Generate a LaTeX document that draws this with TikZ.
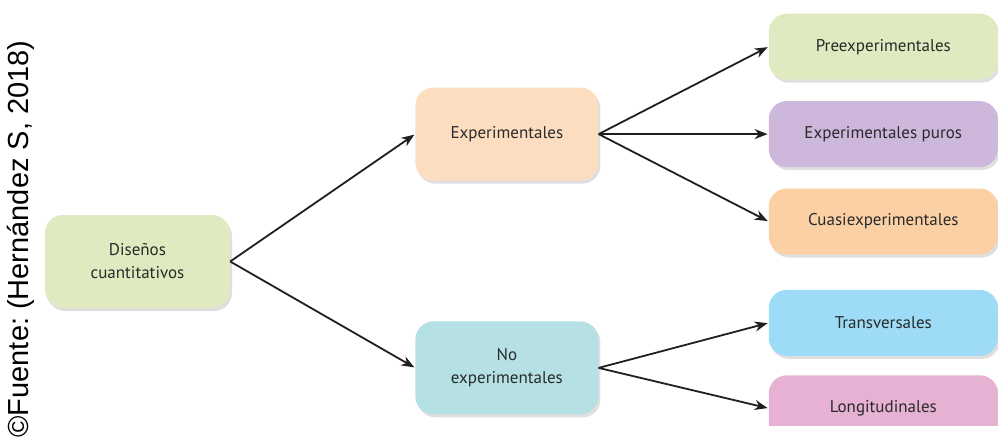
\documentclass[tikz,border=0pt]{standalone}
\usepackage{fontspec}
\setmainfont{PT Sans}
\newfontfamily\sourcefont{Liberation Sans}
\usetikzlibrary{arrows.meta, positioning, shadows}
\definecolor{boxgreen}{HTML}{E0EAC0}
\definecolor{boxpeach}{HTML}{FDDDC0}
\definecolor{boxlilac}{HTML}{CDB7DA}
\definecolor{boxorange}{HTML}{FBD0A5}
\definecolor{boxteal}{HTML}{B5E1E5}
\definecolor{boxblue}{HTML}{9DDBF6}
\definecolor{boxpink}{HTML}{E7B1D3}
\definecolor{textgray}{HTML}{2A2A2A}
\frenchspacing

\begin{document}
\begin{tikzpicture}[x=1pt, y=-1pt, >={Stealth[length=13pt,width=10pt]}, shorten >=1pt,
  box/.style={rounded corners=18pt, minimum width=185pt, minimum height=93pt, align=center,
    text=textgray, font=\fontsize{17}{23}\selectfont,
    drop shadow={shadow xshift=2pt, shadow yshift=-3pt, opacity=.25}},
  leaf/.style={box, minimum width=229pt, minimum height=66pt}]
\useasboundingbox (0,0) rectangle (998,439);

% define the boxes
  \node[box, fill=boxgreen] (dis) at (137.5,261.5) {Diseños\\cuantitativos};
  \node[box, fill=boxpeach, minimum width=183pt] (exp) [above right=34pt and 185pt of dis] {Experimentales};
  \node[box, fill=boxteal, minimum width=183pt] (noexp) [below right=13pt and 185pt of dis] {No\\experimentales};
  \node[leaf, fill=boxlilac] (pur) [right=170pt of exp] {Experimentales puros};
  \node[leaf, fill=boxgreen] (pre) [above=21pt of pur] {Preexperimentales};
  \node[leaf, fill=boxorange] (cua) [below=21pt of pur] {Cuasiexperimentales};
  \node[leaf, fill=boxblue] (tra) [below=35pt of cua] {Transversales};
  \begin{scope}
    \clip (0,0) rectangle (998,425);
    \node[leaf, fill=boxpink] (lon) [below=19pt of tra] {Longitudinales};
  \end{scope}

% the source on the left
  \node[rotate=90, font=\sourcefont\fontsize{29}{30}\selectfont] (src) at (21,239) {©Fuente: (Hernández S, 2018)};

% define the links
  \path[->, line width=1.8pt, color=black!88] (dis.east) edge (exp.west)
                  edge (noexp.west)
        (exp.east) edge (pre.west)
                   edge (pur.west)
                   edge (cua.west)
        (noexp.east) edge (tra.west)
                     edge (lon.west);

\end{tikzpicture}
\end{document}
